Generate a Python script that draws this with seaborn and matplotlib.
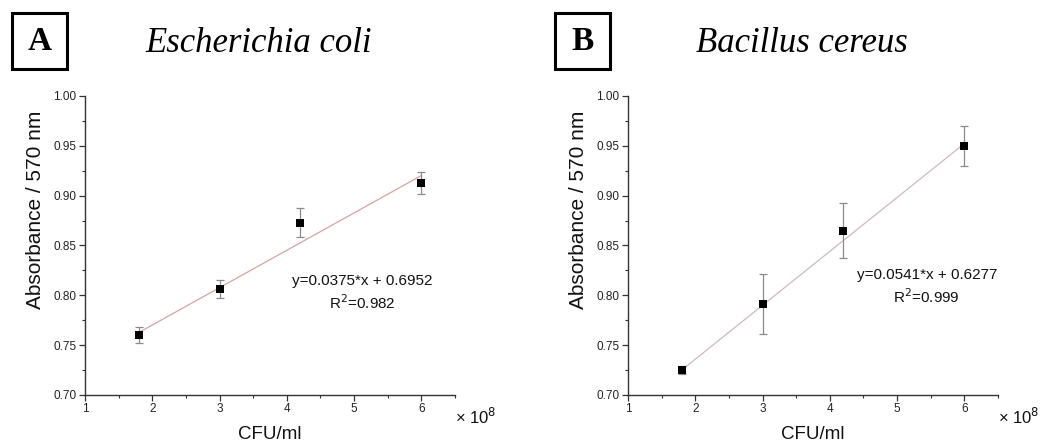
import matplotlib
matplotlib.use("Agg")
import matplotlib.pyplot as plt
from matplotlib.patches import Rectangle
from matplotlib.ticker import MultipleLocator
import seaborn as sns
import pandas as pd

sns.set_theme(style="white")
plt.rcParams["font.family"] = ["Liberation Sans", "DejaVu Sans"]

# Cell density (x 10^8 CFU/ml)
cfu = [1.8, 3.0, 4.2, 6.0]

# Escherichia coli absorbance at 570 nm and standard deviation
ecoli_abs = [0.760, 0.806, 0.873, 0.913]
ecoli_sd = [0.008, 0.009, 0.0145, 0.011]
ecoli_fit = (0.0375, 0.6952, 0.982)

# Bacillus cereus absorbance at 570 nm and standard deviation
bc_abs = [0.725, 0.791, 0.865, 0.950]
bc_sd = [0.004, 0.030, 0.028, 0.020]
bc_fit = (0.0541, 0.6277, 0.999)

panels = [
    ("A", "Escherichia coli", ecoli_abs, ecoli_sd, ecoli_fit, "#d9a3a6", (5.12, 0.814)),
    ("B", "Bacillus cereus", bc_abs, bc_sd, bc_fit, "#cbbcbc", (5.44, 0.820)),
]

W, H = 1040, 445
fig = plt.figure(figsize=(W / 100, H / 100), dpi=100)
axes_rects = [
    [85 / W, 1 - 395 / H, 370 / W, 299 / H],
    [628 / W, 1 - 395 / H, 370 / W, 299 / H],
]

for rect, (tag, species, absorb, sd, fit, line_color, eq_pos) in zip(axes_rects, panels):
    ax = fig.add_axes(rect)
    df = pd.DataFrame({"cfu": cfu, "abs": absorb, "sd": sd})

    slope, intercept, r2 = fit
    fit_df = pd.DataFrame({"cfu": [cfu[0], cfu[-1]]})
    fit_df["abs"] = slope * fit_df["cfu"] + intercept
    sns.lineplot(data=fit_df, x="cfu", y="abs", ax=ax, color=line_color,
                 linewidth=0.9, zorder=1)

    ax.errorbar(df["cfu"], df["abs"], yerr=df["sd"], fmt="none",
                ecolor="#8a8a8a", elinewidth=0.9, capsize=3, capthick=0.9, zorder=2)
    sns.scatterplot(data=df, x="cfu", y="abs", ax=ax, marker="s", s=40,
                    color="black", edgecolor="black", linewidth=0, zorder=3)

    ax.set_xlim(1, 6.5)
    ax.set_ylim(0.70, 1.00)
    ax.xaxis.set_major_locator(MultipleLocator(1))
    ax.xaxis.set_minor_locator(MultipleLocator(0.5))
    ax.yaxis.set_major_locator(MultipleLocator(0.05))
    ax.yaxis.set_minor_locator(MultipleLocator(0.025))
    ax.yaxis.set_major_formatter(plt.FormatStrFormatter("%.2f"))
    ax.xaxis.set_major_formatter(plt.FormatStrFormatter("%d"))

    for side in ("top", "right"):
        ax.spines[side].set_visible(False)
    for side in ("left", "bottom"):
        ax.spines[side].set_color("#333333")
        ax.spines[side].set_linewidth(1.0)
    ax.tick_params(which="major", direction="out", length=4, width=0.9,
                   colors="#333333", labelsize=8.5, labelcolor="#222222", pad=2,
                   bottom=True, left=True)
    ax.tick_params(which="minor", direction="out", length=2.5, width=0.8,
                   colors="#333333", bottom=True, left=True)

    ax.set_xlabel("CFU/ml", fontsize=13.5, color="#111111", va="center")
    ax.xaxis.set_label_coords(0.5, -0.133)
    ax.set_ylabel("Absorbance / 570 nm", fontsize=15, color="#111111")
    ax.yaxis.set_label_coords(-0.108, 0.62)

    ax.text(eq_pos[0], eq_pos[1], f"y={slope:.4f}*x + {intercept:.4f}",
            ha="center", va="center", fontsize=11, color="#111111")
    ax.text(eq_pos[0], eq_pos[1] - 0.021, f"R$^2$={r2:.3f}",
            ha="center", va="center", fontsize=11, color="#111111")

    ax.text(1.0, -0.073, r"× 10$^8$", transform=ax.transAxes, ha="left",
            va="center", fontsize=12, color="#111111")

    # Panel tag in a square frame and species title
    x_px = rect[0] * W
    fig.patches.append(Rectangle(((x_px - 73) / W, 1 - 69 / H), 55 / W, 56 / H,
                                 transform=fig.transFigure, fill=False,
                                 edgecolor="black", linewidth=2.2))
    fig.text((x_px - 45.5) / W, 1 - 42 / H, tag, ha="center", va="center",
             fontsize=24, fontweight="bold", family="Liberation Serif",
             color="black")
    fig.text((x_px + 174) / W, 1 - 43 / H, species, ha="center", va="center",
             fontsize=25, fontstyle="italic", family="Liberation Serif",
             color="black")

fig.savefig("out.png", dpi=100, facecolor="white")
